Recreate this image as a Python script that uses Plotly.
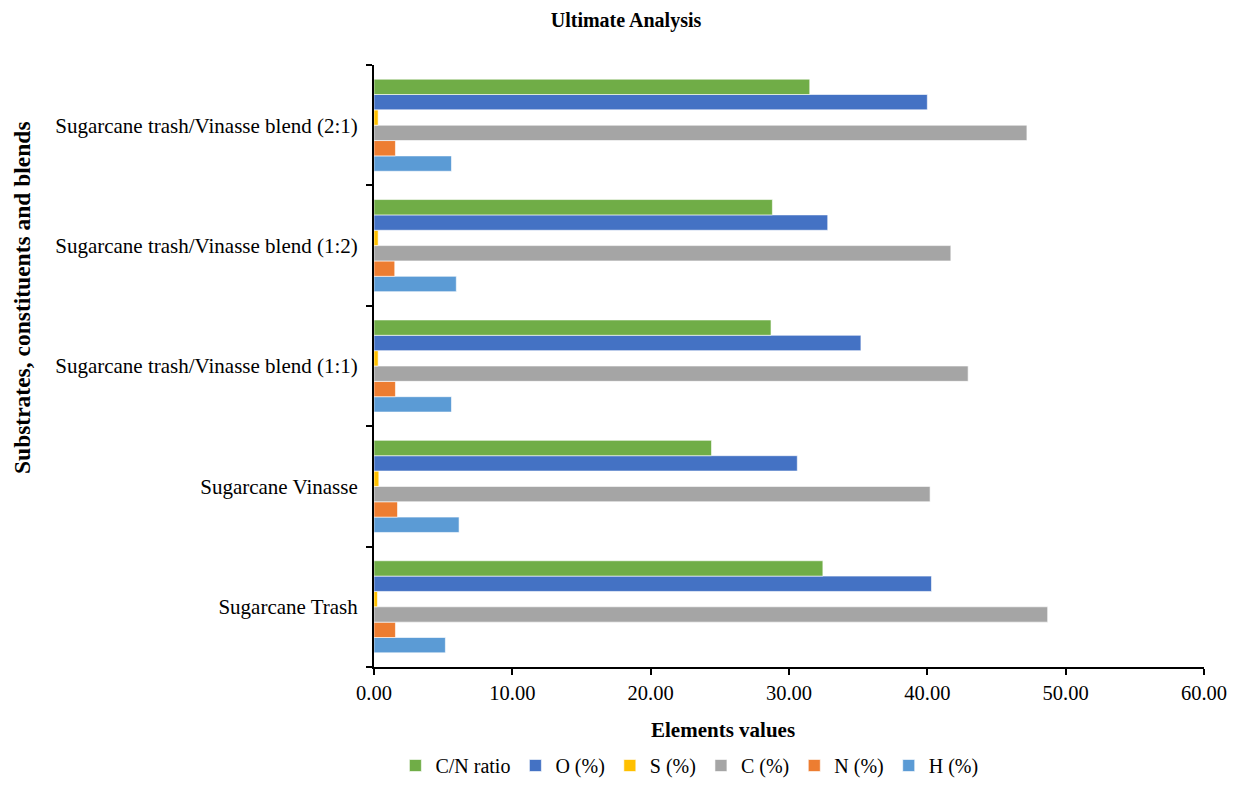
import plotly.graph_objects as go

categories = ["Sugarcane Trash", "Sugarcane Vinasse", "Sugarcane trash/Vinasse blend (1:1)",
              "Sugarcane trash/Vinasse blend (1:2)", "Sugarcane trash/Vinasse blend (2:1)"]
h_vals = [5.16, 6.15, 5.6, 5.95, 5.6]
n_vals = [1.55, 1.7, 1.55, 1.5, 1.55]
c_vals = [48.7, 40.2, 42.95, 41.7, 47.2]
s_vals = [0.25, 0.35, 0.3, 0.3, 0.3]
o_vals = [40.3, 30.6, 35.2, 32.8, 40.0]
cn_vals = [32.45, 24.4, 28.7, 28.8, 31.5]
x_ticks = [0, 10, 20, 30, 40, 50, 60]

series = [
    ("H (%)", h_vals, "#5B9BD5"),
    ("N (%)", n_vals, "#ED7D31"),
    ("C (%)", c_vals, "#A5A5A5"),
    ("S (%)", s_vals, "#FFC000"),
    ("O (%)", o_vals, "#4472C4"),
    ("C/N ratio", cn_vals, "#70AD47"),
]

fig = go.Figure()
for name, vals, color in series:
    fig.add_trace(go.Bar(
        y=categories, x=vals, name=name, orientation="h",
        marker=dict(color=color, line=dict(color="rgba(255,255,255,0.6)", width=1)),
    ))

font_family = "Liberation Serif, Times New Roman, serif"
W, H = 1227, 777
ML, MR, MT, MB = 366, 31, 57, 118
PW, PH = W - ML - MR, H - MT - MB

fig.update_layout(
    width=W, height=H,
    paper_bgcolor="white", plot_bgcolor="white",
    barmode="group", bargap=0.235, bargroupgap=0,
    margin=dict(l=ML, r=MR, t=MT, b=MB, autoexpand=False),
    font=dict(family=font_family, size=21, color="black"),
    title=dict(text="<b>Ultimate Analysis</b>", x=(626 - 8) / W, xref="container", xanchor="center",
               y=1 - 12 / H, yref="container", yanchor="middle", font=dict(size=20)),
    legend=dict(orientation="h", traceorder="reversed", x=0.38, xanchor="center",
                xref="paper", y=0, yref="container", yanchor="bottom", font=dict(size=20),
                itemwidth=30, tracegroupgap=0),
    showlegend=True,
)
fig.update_xaxes(
    range=[0, 60], tickvals=x_ticks, tickformat=".2f",
    showline=True, linecolor="black", linewidth=2,
    ticks="outside", ticklen=6, tickwidth=2, tickcolor="black",
    showgrid=False, zeroline=False,
    tickfont=dict(size=20.5),
)
fig.update_yaxes(
    categoryorder="array", categoryarray=categories,
    showline=True, linecolor="black", linewidth=2,
    ticks="outside", ticklen=6, tickwidth=2, tickcolor="black", tickson="boundaries",
    showgrid=False, zeroline=False, ticklabelstandoff=10,
    tickfont=dict(size=21),
)
# axis titles placed as annotations (positioned off-centre as in the reference)
fig.add_annotation(text="<b>Elements values</b>", xref="paper", yref="paper",
                   x=(723 - 8 - ML) / PW, y=-((730 - 8) - (H - MB)) / PH,
                   xanchor="center", yanchor="middle", showarrow=False, font=dict(size=21))
fig.add_annotation(text="<b>Substrates, constituents and blends</b>", xref="paper", yref="paper",
                   x=-(ML - (22 - 8)) / PW, y=((H - MB) - (298 - 8)) / PH, textangle=-90,
                   xanchor="center", yanchor="middle", showarrow=False, font=dict(size=23.5))
fig.write_html("out.html")
